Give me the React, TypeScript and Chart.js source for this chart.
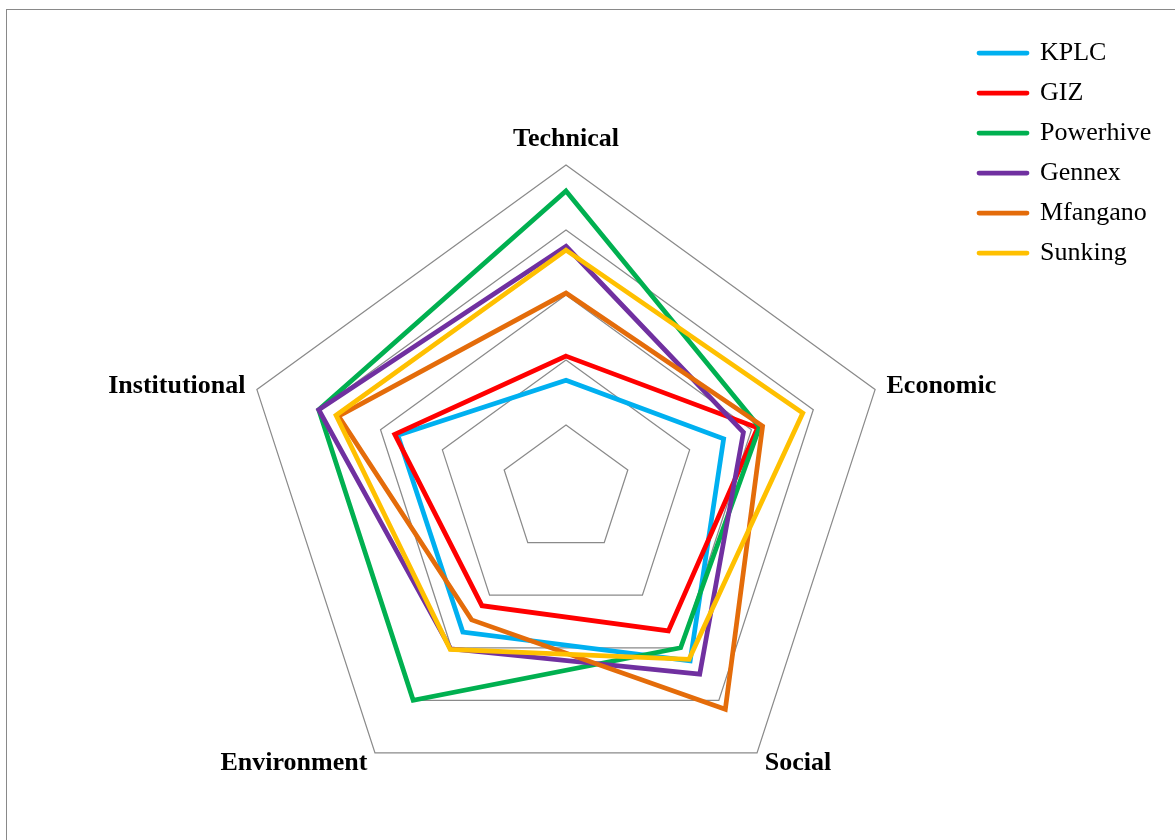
import React, { useEffect, useRef } from "react";
import { Chart, registerables } from "chart.js";

Chart.register(...registerables);

// ---- data ----
const CATEGORIES = ["Technical", "Economic", "Social", "Environment", "Institutional"];
const SERIES_NAMES = ["KPLC", "GIZ", "Powerhive", "Gennex", "Mfangano", "Sunking"];
const KPLC = [1.69, 2.55, 3.25, 2.7, 2.72];
const GIZ = [2.06, 3.1, 2.68, 2.2, 2.77];
const POWERHIVE = [4.6, 3.13, 3.0, 4.0, 4.0];
const GENNEX = [3.75, 2.87, 3.5, 3.02, 4.0];
const MFANGANO = [3.03, 3.18, 4.17, 2.47, 3.68];
const SUNKING = [3.69, 3.83, 3.22, 3.03, 3.72];
const SERIES_VALUES = [KPLC, GIZ, POWERHIVE, GENNEX, MFANGANO, SUNKING];
const SCALE_MIN = 0;
const SCALE_MAX = 5;
const SCALE_STEP = 1;

// ---- styles ----
const COLORS = ["#00B0F0", "#FF0000", "#00B050", "#7030A0", "#E46C0A", "#FFC000"];
const SERIF = "'Liberation Serif', 'Times New Roman', serif";
const LABEL_PADDING = [22, 12, 13, 13, 12];
const LABEL_LINE_HEIGHT = ["8px", "0px", "0px", "0px", "0px"];
const CANVAS_W = 1168;
const CANVAS_H = 830;
const LEGEND_LEFT = 958;
const LEGEND_TOP = 16;

const legendPlacer = {
  id: "legendPlacer",
  afterLayout(chart: any) {
    const lg = chart.legend;
    if (!lg) return;
    lg.left = LEGEND_LEFT;
    lg.top = LEGEND_TOP;
    lg.right = chart.width;
    lg.bottom = chart.height;
    lg.width = lg.right - lg.left;
    lg.height = lg.bottom - lg.top;
  },
};

export default function App() {
  const ref = useRef<HTMLCanvasElement>(null);

  useEffect(() => {
    if (!ref.current) return;
    const datasets = SERIES_NAMES.map((name, i) => ({
      label: name,
      data: SERIES_VALUES[i],
      borderColor: COLORS[i],
      backgroundColor: COLORS[i],
      borderWidth: 4.75,
      borderJoinStyle: "miter" as const,
      fill: false,
      pointRadius: 0,
      pointHoverRadius: 0,
      order: SERIES_NAMES.length - i,
    }));

    const chart = new Chart(ref.current, {
      type: "radar",
      data: { labels: CATEGORIES, datasets },
      options: {
        responsive: false,
        animation: false,
        events: [],
        layout: { padding: { left: 40, right: 90, top: 110, bottom: 10 } },
        scales: {
          r: {
            min: SCALE_MIN,
            max: SCALE_MAX,
            ticks: { stepSize: SCALE_STEP, display: false },
            grid: { color: "#8a8a8a", lineWidth: 1.25 },
            angleLines: { display: false },
            pointLabels: {
              color: "#000000",
              font: (ctx: any) => ({
                family: SERIF,
                size: 26,
                weight: "bold",
                lineHeight: LABEL_LINE_HEIGHT[ctx.index],
              }),
              padding: (ctx: any) => LABEL_PADDING[ctx.index],
            },
          },
        },
        plugins: {
          tooltip: { enabled: false },
          legend: {
            position: "chartArea",
            align: "start",
            labels: {
              usePointStyle: true,
              pointStyle: "line",
              pointStyleWidth: 48,
              padding: 14,
              color: "#000000",
              font: { family: SERIF, size: 26 },
              sort: (a: any, b: any) => a.datasetIndex - b.datasetIndex,
              generateLabels: (c: any) =>
                (Chart.defaults.plugins.legend.labels as any)
                  .generateLabels(c)
                  .map((l: any) => ({ ...l, lineCap: "round", lineWidth: 4.75 })),
            },
          },
        },
      } as any,
      plugins: [legendPlacer],
    });
    return () => chart.destroy();
  }, []);

  return (
    <div
      style={{
        position: "absolute",
        left: 6,
        top: 9,
        width: 1169,
        height: 831,
        boxSizing: "border-box",
        borderTop: "1px solid #898989",
        borderLeft: "1px solid #898989",
        background: "#ffffff",
        overflow: "hidden",
      }}
    >
      <canvas ref={ref} width={CANVAS_W} height={CANVAS_H} style={{ display: "block" }} />
    </div>
  );
}
